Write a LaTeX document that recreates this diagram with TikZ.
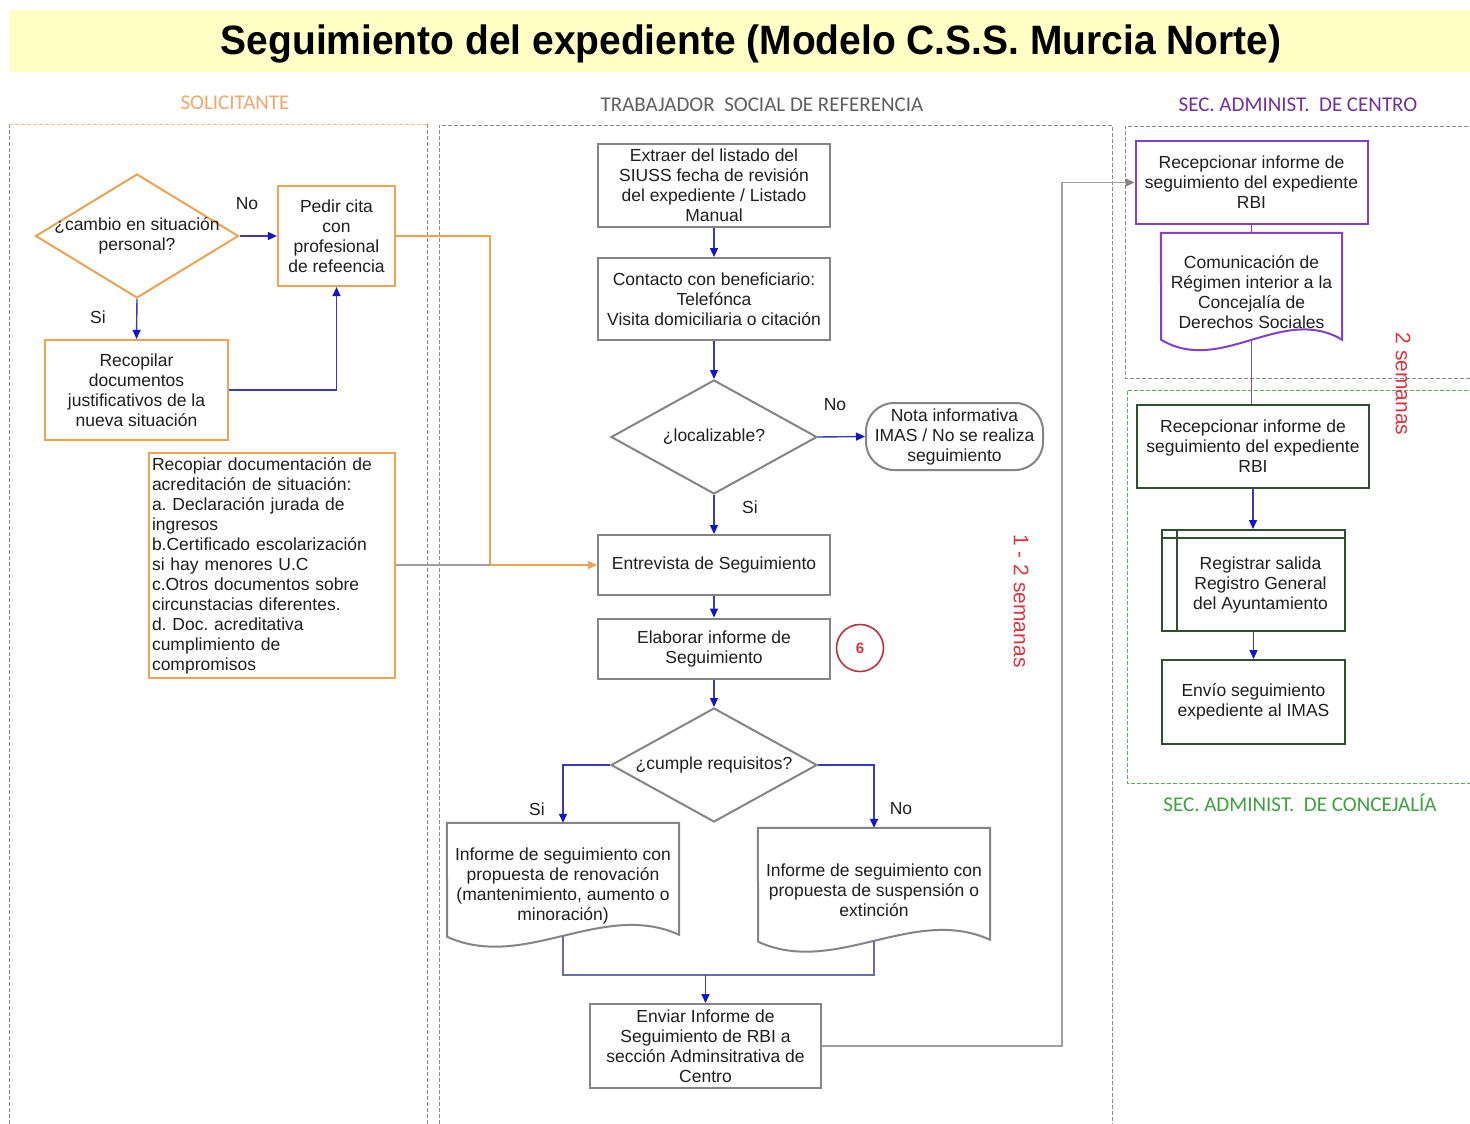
\documentclass[tikz,border=0pt]{standalone}
\usepackage{fontspec}
\setmainfont{Liberation Sans}
\newfontfamily\hdrfont{Carlito}
\newfontfamily\titlefont[FakeStretch=0.95]{Liberation Sans}
\usetikzlibrary{arrows.meta,shapes.geometric,shapes.misc,calc}
\definecolor{orng}{HTML}{EDA352}
\definecolor{gryb}{HTML}{858585}
\definecolor{purp}{HTML}{8540C8}
\definecolor{grnb}{HTML}{334D33}
\definecolor{blul}{HTML}{3A3AB8}
\definecolor{blua}{HTML}{1414C8}
\definecolor{redt}{HTML}{DC3440}
\definecolor{redc}{HTML}{C03040}
\definecolor{lanec}{HTML}{8A8A8A}
\definecolor{grnl}{HTML}{5AAE5A}
\definecolor{hdror}{HTML}{F2A868}
\definecolor{hdrgy}{HTML}{5F5F5F}
\definecolor{hdrpu}{HTML}{7030A0}
\definecolor{hdrgr}{HTML}{3DA13D}
\definecolor{titlebg}{HTML}{FFFFC6}
\definecolor{txtc}{HTML}{1F1F1F}
\definecolor{glinec}{HTML}{A0A0A0}
\definecolor{jlinec}{HTML}{6A6AB0}
\begin{document}
\frenchspacing
\begin{tikzpicture}[x=1pt,y=-1pt,
  body/.style={font=\fontsize{17.5}{20}\selectfont, text=txtc, align=center, inner sep=2pt},
  sz/.style 2 args={minimum width=#1pt, minimum height=#2pt},
  obox/.style={body, draw=orng, line width=2.2pt},
  gbox/.style={body, draw=gryb, line width=2pt},
  pbox/.style={body, draw=purp, line width=2pt},
  grbox/.style={body, draw=grnb, line width=2pt},
  dia/.style={diamond, inner sep=0pt, line width=2pt},
  lbl/.style={font=\fontsize{17.5}{20}\selectfont, text=txtc, inner sep=0pt},
  flow/.style={draw=blul, line width=1.4pt, -{Triangle[length=9pt,width=8pt,color=blua]}},
  oline/.style={draw=orng, line width=1.4pt},
  oflow/.style={oline, -{Triangle[length=9pt,width=8pt]}},
  gline/.style={draw=glinec, line width=1.3pt},
  gflow/.style={gline, -{Triangle[length=9pt,width=8pt,color=gryb]}},
  jline/.style={draw=jlinec, line width=1.4pt},
  pline/.style={draw=purp, line width=1.3pt},
  gdoc/.style={draw=gryb, line width=2pt},
  pdoc/.style={draw=purp, line width=2pt},
  lane/.style={draw=lanec, line width=1pt, dash pattern=on 4pt off 2pt},
  hdr/.style={font=\hdrfont\fontsize{21}{24}\selectfont, inner sep=0pt},
  rot/.style={rotate=-90, text=redt, font=\fontsize{21}{24}\selectfont, inner sep=0pt}
]
\useasboundingbox (0,0) rectangle (1470,1124);
\fill[white] (0,0) rectangle (1470,1124);
% title
\fill[titlebg] (9,10) rectangle (1470,72);
\node[font=\titlefont\bfseries\fontsize{41}{44}\selectfont, inner sep=0pt, text=black] (title) at (751,44) {Seguimiento del expediente (Modelo C.S.S. Murcia Norte)};
% headers
\node[hdr, text=hdror] (hS) at (235,103) {SOLICITANTE};
\node[hdr, text=hdrgy] (hT) at (762,105) {TRABAJADOR\ \ SOCIAL DE REFERENCIA};
\node[hdr, text=hdrpu] (hC) at (1298,105) {SEC. ADMINIST.\ \ DE CENTRO};
\node[hdr, text=hdrgr] (hJ) at (1300,803) {SEC. ADMINIST.\ \ DE CONCEJALÍA};
% lanes
\draw[lane] (9,1130) -- (9,124);
\draw[lane] (427,124) -- (427,1130);
\draw[lane, draw=orng!70] (9,124) -- (427,124);
\draw[lane] (439,1130) -- (439,125) -- (1112,125) -- (1112,1130);
\draw[lane] (1480,126) -- (1125,126) -- (1125,378) -- (1480,378);
\draw[lane, draw=grnl] (1480,390) -- (1127,390) -- (1127,783) -- (1480,783);
% left lane
\node[dia, draw=orng, sz={203}{124}] (d1) at (137,236) {};
\node[body] (d1t) at (d1) {¿cambio en situación\\personal?};
\node[obox, sz={117}{100}] (pedir) at (336.5,236) {Pedir cita\\con\\profesional\\de refeencia};
\node[obox, sz={183}{100}] (recop) at (136.5,390) {Recopilar\\documentos\\justificativos de la\\nueva situación};
\node[obox, text width=240pt, align=left, inner sep=3pt, minimum height=225pt] (docs) at (272,565.5) {Recopiar documentación de\\acreditación de situación:\\a. Declaración jurada de\\ingresos\\b.Certificado escolarización\\si hay menores U.C\\c.Otros documentos sobre\\circunstacias diferentes.\\d. Doc. acreditativa\\cumplimiento de\\compromisos};
% middle lane
\node[gbox, sz={232}{83}] (extr) at (714,185.5) {Extraer del listado del\\SIUSS fecha de revisión\\del expediente / Listado\\Manual};
\node[gbox, sz={232}{82}] (cont) at (714,299) {Contacto con beneficiario:\\Telefónca\\Visita domiciliaria o citación};
\node[dia, draw=gryb, sz={206}{114}] (d2) at (714,437) {};
\node[body] (d2t) at (d2) {¿localizable?};
\node[body, rectangle, rounded corners=28pt, draw=gryb, line width=2pt, sz={177}{67}, inner sep=0pt] (nota) at (954.5,436.5) {Nota informativa\\IMAS / No se realiza\\seguimiento};
\node[gbox, sz={232}{60}] (entr) at (714,565) {Entrevista de Seguimiento};
\node[gbox, sz={232}{60}] (elab) at (714,648.5) {Elaborar informe de\\Seguimiento};
\node[circle, draw=redc, line width=1.6pt, minimum size=47pt, inner sep=0pt, text=redt, font=\bfseries\fontsize{15}{18}\selectfont] (six) at (860,648) {6};
\node[dia, draw=gryb, sz={206}{114}] (d3) at (714,765) {};
\node[body] (d3t) at (d3) {¿cumple requisitos?};
\node[body, sz={232}{125}] (doc1) at (563,885.5) {Informe de seguimiento con\\propuesta de renovación\\(mantenimiento, aumento o\\minoración)};
\node[body, sz={232}{125}] (doc2) at (874,890.5) {Informe de seguimiento con\\propuesta de suspensión o\\extinción};
\draw[gdoc] (doc1.north west) -- (doc1.north east) -- ++(0,112) .. controls +(-77,-35) and +(77,35) .. ++(-232,2) -- cycle;
\draw[gdoc] (doc2.north west) -- (doc2.north east) -- ++(0,112) .. controls +(-77,-35) and +(77,35) .. ++(-232,2) -- cycle;
\node[gbox, sz={231}{84}] (env) at (705.5,1046) {Enviar Informe de\\Seguimiento de RBI a\\sección Adminsitrativa de\\Centro};
% right lanes
\node[pbox, sz={232}{83}] (rec1) at (1251.5,182.5) {Recepcionar informe de\\seguimiento del expediente\\RBI};
\node[body, sz={181}{119}] (com) at (1251.5,292.5) {Comunicación de\\Régimen interior a la\\Concejalía de\\Derechos Sociales};
\draw[pdoc] (com.north west) -- (com.north east) -- ++(0,107) .. controls +(-60,-36) and +(60,36) .. ++(-181,0) -- cycle;
\node[grbox, sz={232}{83}] (rec2) at (1253,446) {Recepcionar informe de\\seguimiento del expediente\\RBI};
\node[grbox, sz={183}{101}] (reg) at (1253.5,580.5) {};
\node[body] (regt) at ($(reg)+(7,4.5)$) {Registrar salida\\Registro General\\del Ayuntamiento};
\draw[grnb, line width=1.6pt] ($(reg.north west)+(16,0)$) -- ($(reg.south west)+(16,0)$);
\draw[grnb, line width=1.6pt] ($(reg.north west)+(0,9)$) -- ($(reg.north east)+(0,9)$);
\node[grbox, sz={183}{84}] (env2) at (1253.5,702) {Envío seguimiento\\expediente al IMAS};
% labels
\node[lbl] (no1) at (247,204) {No};
\node[lbl] (si1) at (98,317) {Si};
\node[lbl] (no2) at (835,405) {No};
\node[lbl] (si2) at (750,507) {Si};
\node[lbl] (si3) at (537,809) {Si};
\node[lbl] (no3) at (901,809) {No};
\node[rot] (sem1) at (1021,601) {1 - 2 semanas};
\node[rot] (sem2) at (1403,384) {2 semanas};
% connectors left
\draw[flow] (d1.east) -- (pedir.west);
\draw[flow] (d1.south) -- (recop.north);
\draw[flow] (recop.east) -| (pedir.south);
\coordinate (oj) at (490,565);
\draw[oline] (pedir.east) -| (oj);
\draw[gline] (docs.east |- oj) -- (oj);
\draw[oflow] (oj) -- (entr.west);
% connectors middle
\draw[flow] (extr.south) -- (cont.north);
\draw[flow] (cont.south) -- (d2.north);
\draw[flow] (d2.east) -- (nota.west);
\draw[flow] (d2.south) -- (entr.north);
\draw[flow] (entr.south) -- (elab.north);
\draw[flow] (elab.south) -- (d3.north);
\draw[flow] (d3.west) -| (doc1.north);
\draw[flow] (d3.east) -| (doc2.north);
\coordinate (b1) at ($(doc1.north)+(0,113)$);
\coordinate (b2) at ($(doc2.north)+(0,113)$);
\coordinate (jn) at (705.5,975);
\draw[jline] (b1) |- (b2 |- jn) -- (b2);
\draw[flow] (env.north |- jn) -- (env.north);
\coordinate (gj) at (1062,0);
\draw[gflow] (env.east) -| (gj |- rec1.west) -- (rec1.west);
% connectors right
\draw[pline] (rec1.south) -- (com.north);
\coordinate (b3) at ($(com.north)+(0,107)$);
\draw[pline, draw=purp!70!gray] (b3) -- (b3 |- rec2.north);
\draw[flow] (rec2.south) -- (rec2.south |- reg.north);
\draw[flow] (reg.south) -- (env2.north);
\end{tikzpicture}
\end{document}
